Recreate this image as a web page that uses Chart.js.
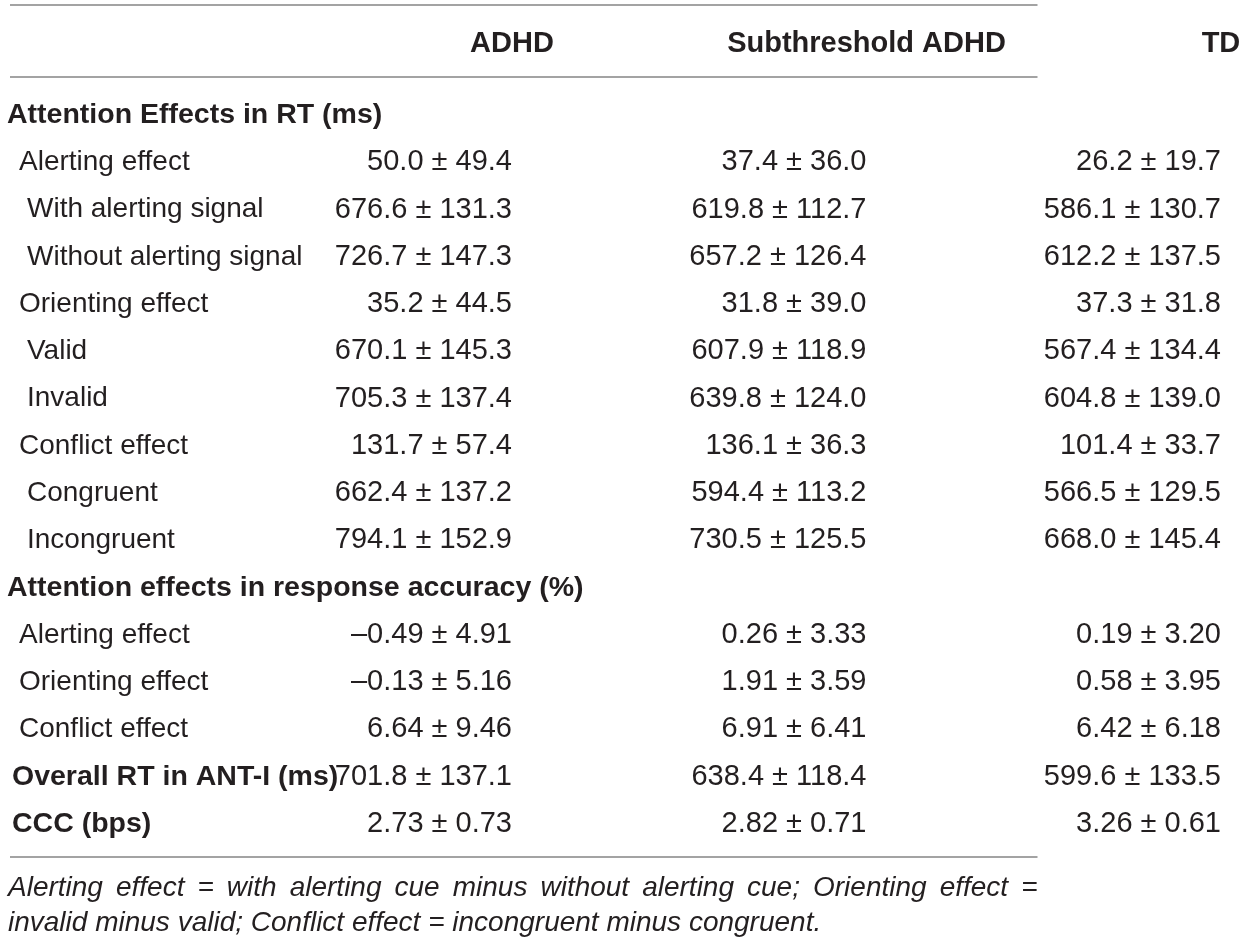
<!DOCTYPE html>
<html>
<head>
<meta charset="utf-8">
<script src="https://cdn.jsdelivr.net/npm/chart.js@4/dist/chart.umd.min.js"></script>
<style>
  html, body { margin: 0; padding: 0; background: #fff; }
  #wrap { width: 1248px; height: 944px; }
</style>
</head>
<body>
<div id="wrap"><canvas id="tableChart" width="1248" height="944"></canvas></div>
<script>
// === ANT-I attention effects table, drawn on a Chart.js canvas ===

var groups = ['ADHD', 'Subthreshold ADHD', 'TD'];

var rowLabels = [
  'Attention Effects in RT (ms)',
  'Alerting effect', 'With alerting signal', 'Without alerting signal',
  'Orienting effect', 'Valid', 'Invalid',
  'Conflict effect', 'Congruent', 'Incongruent',
  'Attention effects in response accuracy (%)',
  'Alerting effect', 'Orienting effect', 'Conflict effect',
  'Overall RT in ANT-I (ms)', 'CCC (bps)'
];
var rowKinds = ['section', 'effect', 'sub', 'sub', 'effect', 'sub', 'sub', 'effect', 'sub', 'sub',
  'section', 'effect', 'effect', 'effect', 'total', 'total'];
var rowDecimals = [0, 1, 1, 1, 1, 1, 1, 1, 1, 1, 0, 2, 2, 2, 1, 2];

var adhdMean = [null, 50.0, 676.6, 726.7, 35.2, 670.1, 705.3, 131.7, 662.4, 794.1, null, -0.49, -0.13, 6.64, 701.8, 2.73];
var adhdSd   = [null, 49.4, 131.3, 147.3, 44.5, 145.3, 137.4, 57.4, 137.2, 152.9, null, 4.91, 5.16, 9.46, 137.1, 0.73];
var subMean  = [null, 37.4, 619.8, 657.2, 31.8, 607.9, 639.8, 136.1, 594.4, 730.5, null, 0.26, 1.91, 6.91, 638.4, 2.82];
var subSd    = [null, 36.0, 112.7, 126.4, 39.0, 118.9, 124.0, 36.3, 113.2, 125.5, null, 3.33, 3.59, 6.41, 118.4, 0.71];
var tdMean   = [null, 26.2, 586.1, 612.2, 37.3, 567.4, 604.8, 101.4, 566.5, 668.0, null, 0.19, 0.58, 6.42, 599.6, 3.26];
var tdSd     = [null, 19.7, 130.7, 137.5, 31.8, 134.4, 139.0, 33.7, 129.5, 145.4, null, 3.20, 3.95, 6.18, 133.5, 0.61];

var footnoteLines = [
  'Alerting effect = with alerting cue minus without alerting cue; Orienting effect =',
  'invalid minus valid; Conflict effect = incongruent minus congruent.'
];

// --- styles ---
var FONT = '"Liberation Sans", Arial, Helvetica, sans-serif';
var TEXT = '#231f20';
var RULE = '#a3a3a3';
var TEXT_DY = 2;
var indents = { section: 7, effect: 19, sub: 27, total: 12 };

function fmt(v, d) {
  return v.toFixed(d).replace('-', '\u2013');
}

var means = [adhdMean, subMean, tdMean];
var sds = [adhdSd, subSd, tdSd];

var datasets = groups.map(function(g, gi) {
  var pts = [];
  rowLabels.forEach(function(r, i) {
    if (means[gi][i] !== null) pts.push({ x: gi + 1, y: i + 1, text: fmt(means[gi][i], rowDecimals[i]) + ' \u00b1 ' + fmt(sds[gi][i], rowDecimals[i]) });
  });
  return { label: g, data: pts, pointRadius: 0, pointHoverRadius: 0 };
});

var tablePlugin = {
  id: 'tableText',
  afterDatasetsDraw: function(chart) {
    var ctx = chart.ctx;
    var xs = chart.scales.x, ys = chart.scales.y;
    var left = chart.chartArea.left;
    var ruleL = left + 10, ruleR = xs.getPixelForValue(2.4824);

    ctx.save();
    // --- rules ---
    ctx.strokeStyle = RULE;
    ctx.lineWidth = 2;
    [-1.275, 0.24, 16.74].forEach(function(v) {
      var y = Math.round(ys.getPixelForValue(v));
      ctx.beginPath();
      ctx.moveTo(ruleL, y);
      ctx.lineTo(ruleR, y);
      ctx.stroke();
    });

    ctx.fillStyle = TEXT;
    ctx.textBaseline = 'middle';

    // --- column headers ---
    ctx.font = 'bold 29px ' + FONT;
    ctx.textAlign = 'center';
    groups.forEach(function(g, gi) {
      ctx.fillText(g, xs.getPixelForValue(gi + 1), ys.getPixelForValue(-0.5) + TEXT_DY);
    });

    // --- row labels ---
    ctx.textAlign = 'left';
    rowLabels.forEach(function(r, i) {
      var k = rowKinds[i];
      ctx.font = (k === 'section' || k === 'total' ? 'bold 28.5px ' : '28px ') + FONT;
      ctx.fillText(r, left + indents[k], ys.getPixelForValue(i + 1) + TEXT_DY);
    });

    // --- cells ---
    ctx.font = '29px ' + FONT;
    ctx.textAlign = 'right';
    chart.data.datasets.forEach(function(ds, di) {
      var meta = chart.getDatasetMeta(di);
      meta.data.forEach(function(el, j) {
        ctx.fillText(ds.data[j].text, el.x, el.y + TEXT_DY);
      });
    });

    // --- footnote (first line justified) ---
    ctx.font = 'italic 28px ' + FONT;
    ctx.textAlign = 'left';
    var fx = left + 8, maxW = ruleR - fx;
    var fy = [17.39, 18.15];
    footnoteLines.forEach(function(line, li) {
      var y = ys.getPixelForValue(fy[li]);
      var words = line.split(' ');
      if (li < footnoteLines.length - 1) {
        var wsum = 0;
        words.forEach(function(w) { wsum += ctx.measureText(w).width; });
        var gap = (maxW - wsum) / (words.length - 1);
        var x = fx;
        words.forEach(function(w) { ctx.fillText(w, x, y); x += ctx.measureText(w).width + gap; });
      } else {
        ctx.fillText(line, fx, y);
      }
    });
    ctx.restore();
  }
};

new Chart(document.getElementById('tableChart'), {
  type: 'scatter',
  data: { datasets: datasets },
  options: {
    responsive: false,
    animation: false,
    devicePixelRatio: 1,
    layout: { padding: 0 },
    plugins: { legend: { display: false }, tooltip: { enabled: false } },
    scales: {
      x: { type: 'linear', display: false, min: -0.44429, max: 3.07620 },
      y: { type: 'linear', display: false, reverse: true, min: -1.3907, max: 18.581 }
    }
  },
  plugins: [tablePlugin]
});
</script>
</body>
</html>
